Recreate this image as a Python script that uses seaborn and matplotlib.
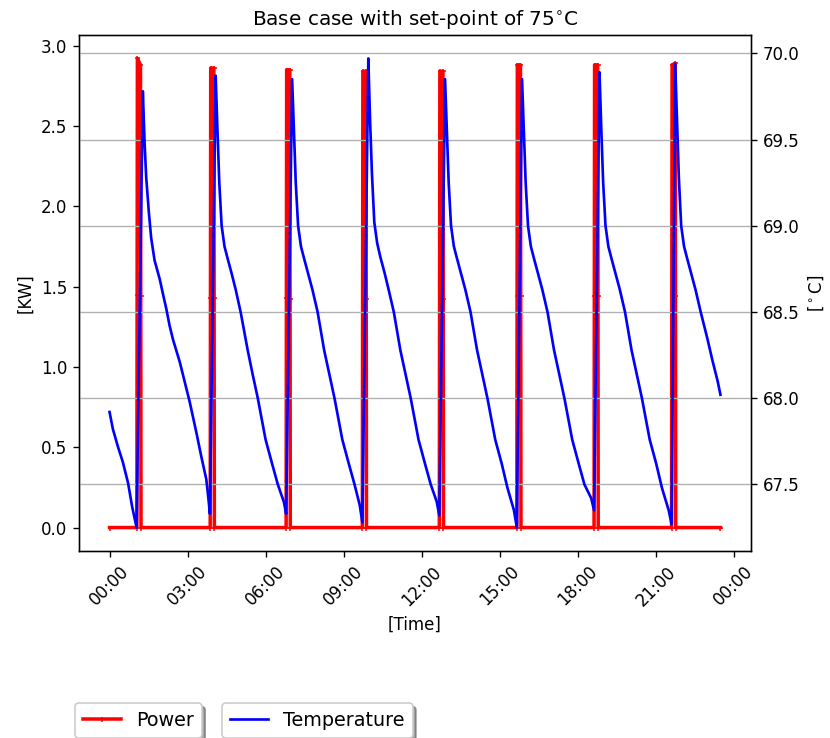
import numpy as np
import pandas as pd
import matplotlib
matplotlib.use("Agg")
import matplotlib.pyplot as plt
import matplotlib.dates as mdates
import seaborn as sns

# ---------------- data ----------------
# Power (kW) pulses: hour of day and value
power_hours = [0.0,
               1.05, 1.06, 1.07, 1.19, 1.20, 1.21,
               3.87, 3.88, 3.89, 4.01, 4.02, 4.03,
               6.79, 6.80, 6.81, 6.93, 6.94, 6.95,
               9.72, 9.73, 9.74, 9.86, 9.87, 9.88,
               12.68, 12.69, 12.70, 12.82, 12.83, 12.84,
               15.66, 15.67, 15.68, 15.80, 15.81, 15.82,
               18.63, 18.64, 18.65, 18.77, 18.78, 18.79,
               21.61, 21.62, 21.63, 21.75, 21.76, 21.77,
               23.49]
power_values = [0.0,
                0.0, 1.45, 2.92, 2.88, 1.44, 0.0,
                0.0, 1.43, 2.86, 2.86, 1.43, 0.0,
                0.0, 1.43, 2.85, 2.85, 1.42, 0.0,
                0.0, 1.42, 2.84, 2.84, 1.42, 0.0,
                0.0, 1.42, 2.84, 2.84, 1.42, 0.0,
                0.0, 1.44, 2.88, 2.88, 1.44, 0.0,
                0.0, 1.44, 2.88, 2.88, 1.44, 0.0,
                0.0, 1.44, 2.88, 2.89, 1.44, 0.0,
                0.0]

# Tank temperature (deg C)
temp_hours = [0.00, 0.13, 0.32, 0.51, 0.71, 0.87, 1.04,
              1.28, 1.35, 1.41, 1.51, 1.60, 1.73, 1.93, 2.06, 2.18, 2.31, 2.44, 2.70, 2.93, 3.08, 3.34, 3.53, 3.72, 3.80, 3.86,
              4.08, 4.15, 4.22, 4.31, 4.42, 4.54, 4.70, 4.85, 5.04, 5.31, 5.50, 5.70, 6.00, 6.25, 6.47, 6.70, 6.79,
              7.02, 7.09, 7.16, 7.25, 7.36, 7.48, 7.64, 7.80, 8.00, 8.25, 8.45, 8.65, 8.95, 9.20, 9.42, 9.62, 9.72,
              9.95, 10.02, 10.09, 10.18, 10.29, 10.41, 10.57, 10.73, 10.93, 11.18, 11.38, 11.58, 11.88, 12.13, 12.35, 12.58, 12.68,
              12.90, 12.97, 13.04, 13.13, 13.24, 13.36, 13.52, 13.68, 13.88, 14.13, 14.33, 14.53, 14.83, 15.08, 15.30, 15.55, 15.66,
              15.86, 15.93, 16.00, 16.09, 16.20, 16.32, 16.48, 16.64, 16.84, 17.09, 17.29, 17.49, 17.79, 18.04, 18.26, 18.52, 18.63,
              18.84, 18.91, 18.98, 19.07, 19.18, 19.30, 19.46, 19.62, 19.82, 20.07, 20.27, 20.47, 20.77, 21.02, 21.24, 21.50, 21.61,
              21.75, 21.82, 21.89, 21.98, 22.09, 22.21, 22.37, 22.53, 22.73, 22.98, 23.18, 23.38, 23.49]
temp_values = [67.92, 67.82, 67.72, 67.63, 67.51, 67.37, 67.25,
               69.78, 69.47, 69.28, 69.08, 68.93, 68.80, 68.69, 68.60, 68.52, 68.42, 68.34, 68.21, 68.07, 67.98, 67.80, 67.66, 67.53, 67.42, 67.33,
               69.87, 69.55, 69.25, 69.00, 68.88, 68.81, 68.72, 68.63, 68.50, 68.28, 68.14, 68.00, 67.76, 67.62, 67.50, 67.40, 67.33,
               69.85, 69.55, 69.25, 69.00, 68.88, 68.81, 68.72, 68.63, 68.50, 68.28, 68.14, 68.00, 67.76, 67.62, 67.50, 67.38, 67.28,
               69.97, 69.60, 69.30, 69.02, 68.90, 68.82, 68.73, 68.63, 68.50, 68.28, 68.14, 68.00, 67.76, 67.62, 67.50, 67.40, 67.32,
               69.85, 69.55, 69.25, 69.00, 68.88, 68.81, 68.72, 68.63, 68.50, 68.28, 68.14, 68.00, 67.76, 67.62, 67.48, 67.35, 67.25,
               69.85, 69.55, 69.25, 69.00, 68.88, 68.81, 68.72, 68.63, 68.50, 68.28, 68.14, 68.00, 67.76, 67.62, 67.50, 67.42, 67.35,
               69.89, 69.55, 69.25, 69.00, 68.88, 68.81, 68.72, 68.63, 68.50, 68.28, 68.14, 68.00, 67.76, 67.62, 67.48, 67.35, 67.27,
               69.94, 69.60, 69.28, 69.00, 68.88, 68.81, 68.72, 68.63, 68.50, 68.35, 68.22, 68.10, 68.02]

title_text = "Base case with set-point of 75$^{\\circ}$C"
ylabel_left = "[KW]"
ylabel_right = "[$^\\circ$C]"
xlabel_text = "[Time]"

# ---------------- figure ----------------
DPI = 120
fig = plt.figure(figsize=(830 / DPI, 738 / DPI), dpi=DPI)
ax = fig.add_axes([79 / 830, 1 - 551 / 738, (751 - 79) / 830, (551 - 35) / 738])
ax2 = ax.twinx()

base = pd.Timestamp("2019-01-01")
pdf = pd.DataFrame({"time": base + pd.to_timedelta(power_hours, unit="h"),
                    "power": power_values})
tdf = pd.DataFrame({"time": base + pd.to_timedelta(temp_hours, unit="h"),
                    "temp": temp_values})

sns.lineplot(data=pdf, x="time", y="power", ax=ax, color="red", linewidth=2.1,
             marker="+", markersize=3, markeredgewidth=0.9,
             markeredgecolor="red", markerfacecolor="red",
             estimator=None, sort=False, label="Power", legend=False)
sns.lineplot(data=tdf, x="time", y="temp", ax=ax2, color="blue", linewidth=1.6,
             estimator=None, sort=False, label="Temperature", legend=False)

ax.xaxis.set_major_locator(mdates.HourLocator(byhour=range(0, 24, 3)))
ax.xaxis.set_major_formatter(mdates.DateFormatter("%H:%M"))
for lbl in ax.get_xticklabels():
    lbl.set_rotation(45)

ax.set_xlabel(xlabel_text, fontsize=10)
ax.set_ylabel(ylabel_left, fontsize=10)
ax2.set_ylabel(ylabel_right, fontsize=10)
ax.set_title(title_text, fontsize=12)

ax2.grid(True, color="#b0b0b0", linewidth=0.8)
ax.grid(False)

leg1 = ax.legend(loc="upper left", bbox_to_anchor=(-0.006, -0.295),
                 borderaxespad=0, shadow=True, fontsize=11.5)
leg2 = ax2.legend(loc="upper left", bbox_to_anchor=(0.213, -0.295),
                  borderaxespad=0, shadow=True, fontsize=11.5)

fig.savefig("out.png", dpi=DPI)
